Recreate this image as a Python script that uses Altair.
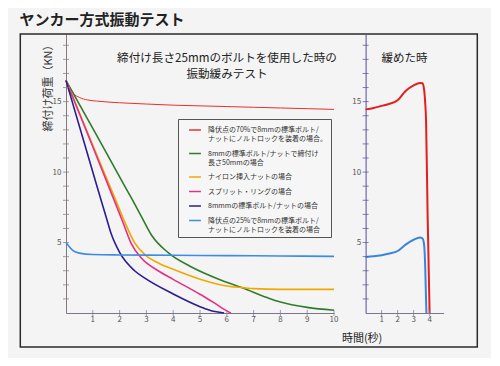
import altair as alt
import pandas as pd

FONT = "Noto Sans CJK JP"

LABELS = [
    "降伏点の70%で8mmの標準ボルト/|ナットにノルトロックを装着の場合。",
    "8mmの標準ボルト/ナットで締付け|長さ50mmの場合",
    "ナイロン挿入ナットの場合",
    "スプリット・リングの場合",
    "8mmmの標準ボルト/ナットの場合",
    "降伏点の25%で8mmの標準ボルト/|ナットにノルトロックを装着の場合",
]
COLORS = ["#e8302e", "#2f7d2a", "#f0a800", "#e33284", "#2b1d8f", "#3d8be6"]

# ---- left panel (vibration test, 25mm bolts) ----
red_t = [0, 0.15, 0.27, 0.5, 0.8, 1.14, 2, 3, 4, 5, 6, 7, 8, 9, 10]
red_v = [16.5, 16.0, 15.6, 15.3, 15.12, 15.04, 14.92, 14.83, 14.75, 14.7, 14.65, 14.6, 14.55, 14.5, 14.45]
green_t = [0, 1, 2, 2.5, 2.8, 3.2, 3.8, 4.7, 5.7, 6.6, 7.5, 8, 9, 10]
green_v = [16.5, 13.1, 9.66, 7.95, 6.9, 5.5, 4.3, 3.25, 2.4, 1.78, 1.1, 0.78, 0.4, 0.2]
orange_t = [0, 1, 1.87, 2.25, 2.56, 2.94, 3.5, 4, 5, 6, 6.6, 7, 8, 9, 10]
orange_v = [16.5, 11.9, 7.94, 6.2, 5.0, 4.15, 3.5, 3.1, 2.4, 1.92, 1.8, 1.73, 1.68, 1.68, 1.68]
pink_t = [0, 1, 1.81, 2.13, 2.44, 2.81, 3.44, 4, 5, 5.5, 6, 6.15]
pink_v = [16.5, 11.8, 7.94, 6.4, 4.9, 3.9, 3.0, 2.39, 1.33, 0.75, 0.15, 0.0]
navy_t = [0, 1, 1.31, 1.5, 1.69, 2.0, 2.56, 3, 4, 5, 5.5, 5.9]
navy_v = [16.5, 10.0, 8.0, 6.8, 5.6, 4.3, 3.0, 2.4, 1.35, 0.45, 0.12, 0.0]
blue_t = [0, 0.1, 0.25, 0.5, 1, 2, 4, 6, 8, 10]
blue_v = [5.0, 4.75, 4.45, 4.25, 4.15, 4.12, 4.1, 4.07, 4.05, 4.02]

# ---- right panel (loosened) ----
rred_t = [0, 0.5, 1, 1.5, 2, 2.5, 3, 3.4, 3.55, 3.65, 3.72, 3.78, 3.875, 4.0]
rred_v = [14.45, 14.55, 14.7, 14.85, 15.1, 15.75, 16.15, 16.33, 16.3, 15.9, 15.0, 13.6, 7.0, 0.0]
rblue_t = [0, 0.5, 1, 1.5, 2, 2.5, 3, 3.4, 3.55, 3.65, 3.72, 3.8]
rblue_v = [3.97, 4.02, 4.1, 4.22, 4.4, 4.85, 5.2, 5.35, 5.3, 4.9, 3.5, 0.0]

Y_TICKS = list(range(1, 20))
Y_LABELS = [5, 10, 15]
XL_TICKS = list(range(1, 11))
XR_TICKS = [1, 2, 3, 4]


def series(name, ts, vs):
    return pd.DataFrame({"t": ts, "v": vs, "s": name})


left_df = pd.concat([
    series(LABELS[0], red_t, red_v),
    series(LABELS[1], green_t, green_v),
    series(LABELS[2], orange_t, orange_v),
    series(LABELS[3], pink_t, pink_v),
    series(LABELS[4], navy_t, navy_v),
    series(LABELS[5], blue_t, blue_v),
])
right_df = pd.concat([
    series(LABELS[0], rred_t, rred_v),
    series(LABELS[5], rblue_t, rblue_v),
])

YMAX = 19.8
H = 279
LW = 268
RW = 78
RMAX = 4.875

LEFT_AX = "#85787a"
RIGHT_AX = "#5a4a9e"
X_AX = "#7d7290"


def y_enc(color, title=None):
    kw = dict(values=Y_LABELS, ticks=False, grid=False, domainColor=color,
              labelFontSize=8, labelColor="#555", labelFont=FONT, labelPadding=5,
              labelOverlap=False)
    if title:
        kw.update(title=title, titleFont=FONT, titleFontSize=11, titleFontWeight="normal",
                  titleColor="#333", titleAngle=-90, titleX=-18, titleY=5,
                  titleAlign="right", titleBaseline="middle")
    else:
        kw.update(title=None)
    return alt.Y("v:Q", scale=alt.Scale(domain=[0, YMAX], nice=False), axis=alt.Axis(**kw))


def x_enc(dmax, title=None):
    kw = dict(ticks=False, labels=False, grid=False, domainColor=X_AX)
    if title:
        kw.update(title=title, titleFont=FONT, titleFontSize=11, titleFontWeight="normal",
                  titleColor="#222", titleX=-4, titleY=25, titleAlign="center",
                  titleBaseline="middle")
    else:
        kw.update(title=None)
    return alt.X("t:Q", scale=alt.Scale(domain=[0, dmax], nice=False), axis=alt.Axis(**kw))


def tick_layers(xvals, ycolor):
    ydf = pd.DataFrame({"v": Y_TICKS})
    xdf = pd.DataFrame({"t": xvals})
    yt = alt.Chart(ydf).mark_tick(orient="horizontal", size=6, thickness=1,
                                  color=ycolor).encode(y="v:Q", x=alt.datum(0))
    xt = alt.Chart(xdf).mark_tick(orient="vertical", size=6, thickness=1,
                                  color=X_AX).encode(x="t:Q", y=alt.datum(0))
    xl = alt.Chart(xdf).mark_text(baseline="middle", align="center", dy=7, font=FONT,
                                  fontSize=8, color="#555").encode(
        x="t:Q", y=alt.datum(0), text="t:Q")
    return [yt, xt, xl]


left_lines = alt.Chart(left_df).mark_line(interpolate="monotone").encode(
    x=x_enc(10),
    y=y_enc(LEFT_AX, "締付け荷重（KN）"),
    color=alt.Color("s:N", scale=alt.Scale(domain=LABELS, range=COLORS),
                    legend=alt.Legend(
                        title=None, orient="none", legendX=112, legendY=85,
                        symbolType="stroke", symbolSize=140, symbolStrokeWidth=1.5,
                        symbolOffset=6, labelOffset=6,
                        labelExpr="split(datum.label, '|')",
                        labelFont=FONT, labelFontSize=7, labelColor="#333",
                        labelLimit=300, rowPadding=4.5, padding=4,
                        strokeColor="#555", fillColor="#f6f6f6")),
    strokeWidth=alt.condition(alt.datum.s == LABELS[0], alt.value(1), alt.value(1.6)),
    detail="s:N",
)

frame = alt.Chart(pd.DataFrame({"a": [0]})).mark_rect(
    fillOpacity=0, stroke="#2a2a2a", strokeWidth=1.5
).encode(x=alt.value(-45.7), x2=alt.value(411.3), y=alt.value(0), y2=alt.value(313))

left = alt.layer(frame, left_lines, *tick_layers(XL_TICKS, LEFT_AX)).properties(
    width=LW, height=H,
    title=alt.TitleParams(["締付け長さ25mmのボルトを使用した時の", "振動緩みテスト"],
                          font=FONT, fontSize=11.6, fontWeight="normal", color="#222",
                          anchor="middle", dx=27, offset=-47, lineHeight=16),
)

right_lines = alt.Chart(right_df).mark_line(interpolate="monotone", strokeWidth=2).encode(
    x=x_enc(RMAX, "時間(秒)"),
    y=y_enc(RIGHT_AX),
    color=alt.Color("s:N", scale=alt.Scale(domain=[LABELS[0], LABELS[5]],
                                           range=["#e41e1e", "#3a84e0"]), legend=None),
)

right = alt.layer(right_lines, *tick_layers(XR_TICKS, RIGHT_AX)).properties(
    width=RW, height=H,
    title=alt.TitleParams("緩めた時", font=FONT, fontSize=11.5, fontWeight="normal",
                          color="#222", anchor="middle", offset=-30),
)

chart = alt.hconcat(left, right, spacing=31.6, bounds="flush").resolve_scale(
    color="independent"
).properties(
    title=alt.TitleParams("ヤンカー方式振動テスト", font=FONT, fontSize=15, fontWeight="bold",
                          color="#222", anchor="start", offset=5),
    padding={"left": 11, "top": 5, "right": 12, "bottom": 10},
    background="#f4f4f4",
).configure_view(stroke=None)

chart.save("out.html", embed_options={"renderer": "svg", "actions": False})
